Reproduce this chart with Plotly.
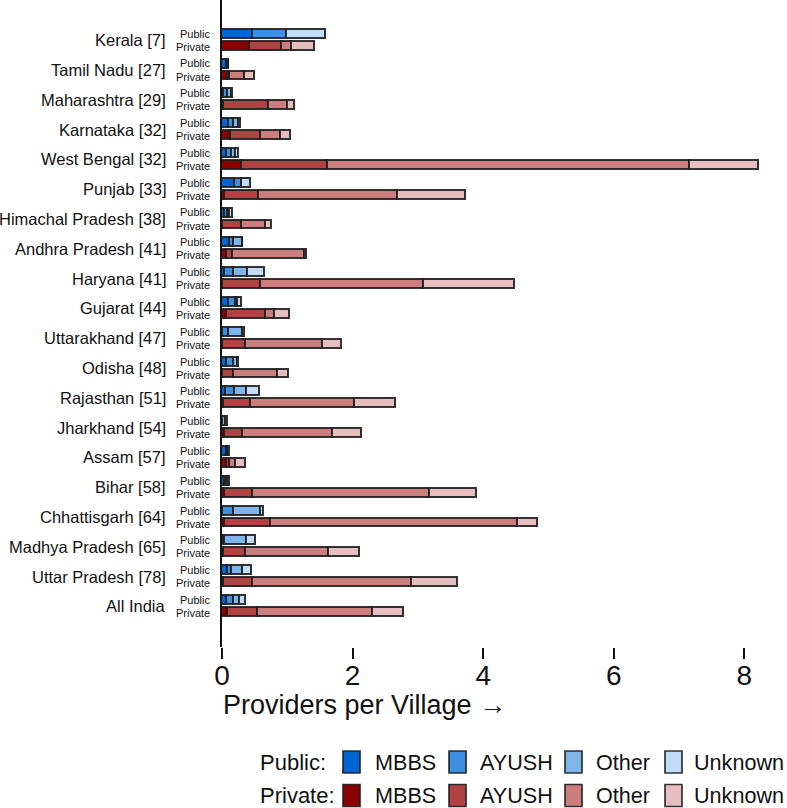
import plotly.graph_objects as go

states = ["Kerala [7]", "Tamil Nadu [27]", "Maharashtra [29]", "Karnataka [32]", "West Bengal [32]",
          "Punjab [33]", "Himachal Pradesh [38]", "Andhra Pradesh [41]", "Haryana [41]", "Gujarat [44]",
          "Uttarakhand [47]", "Odisha [48]", "Rajasthan [51]", "Jharkhand [54]", "Assam [57]",
          "Bihar [58]", "Chhattisgarh [64]", "Madhya Pradesh [65]", "Uttar Pradesh [78]", "All India"]

categories = ["MBBS", "AYUSH", "Other", "Unknown"]

public_mbbs = [0.47, 0.08, 0.03, 0.11, 0.08, 0.20, 0.05, 0.13, 0.05, 0.11,
               0.01, 0.08, 0.055, 0.005, 0.07, 0.05, 0.02, 0.01, 0.087, 0.08]
public_ayush = [0.53, 0.02, 0.06, 0.08, 0.08, 0.10, 0.04, 0.05, 0.13, 0.11,
                0.09, 0.11, 0.15, 0.015, 0.02, 0.03, 0.17, 0.03, 0.066, 0.10]
public_other = [0.0, 0.005, 0.06, 0.07, 0.06, 0.0, 0.04, 0.14, 0.22, 0.03,
                0.22, 0.05, 0.18, 0.035, 0.02, 0.02, 0.41, 0.35, 0.17, 0.09]
public_unknown = [0.60, 0.005, 0.02, 0.03, 0.04, 0.14, 0.035, 0.0, 0.26, 0.05,
                  0.025, 0.02, 0.19, 0.03, 0.015, 0.03, 0.045, 0.13, 0.13, 0.09]

private_mbbs = [0.43, 0.09, 0.035, 0.14, 0.30, 0.04, 0.01, 0.08, 0.02, 0.07,
                0.02, 0.01, 0.035, 0.04, 0.08, 0.05, 0.05, 0.035, 0.03, 0.085]
private_ayush = [0.49, 0.035, 0.69, 0.46, 1.33, 0.52, 0.29, 0.09, 0.58, 0.61,
                 0.34, 0.17, 0.41, 0.28, 0.05, 0.42, 0.70, 0.34, 0.44, 0.47]
private_other = [0.15, 0.23, 0.28, 0.30, 5.54, 2.14, 0.37, 1.10, 2.49, 0.13,
                 1.18, 0.67, 1.59, 1.38, 0.08, 2.72, 3.78, 1.26, 2.44, 1.75]
private_unknown = [0.35, 0.15, 0.11, 0.16, 1.05, 1.04, 0.09, 0.025, 1.39, 0.23,
                   0.30, 0.18, 0.63, 0.45, 0.16, 0.72, 0.31, 0.475, 0.71, 0.48]

x_ticks = [0, 2, 4, 6, 8]

public_colors = ["#0066d6", "#3d8fe0", "#80b5ec", "#c3dcf5"]
private_colors = ["#8b0000", "#b04242", "#cc7e7e", "#e6bec0"]

FONT = "Liberation Sans, Arial, Helvetica, sans-serif"
W, H = 787, 808
ML, MR, MT, MB = 222, 10, 0, 161
plot_w = W - ML - MR
plot_h = H - MT - MB

idx = list(range(len(states)))
off = 0.2
bw = 0.30

fig = go.Figure()
line = dict(color="rgba(30,30,30,0.9)", width=1.7)
for vals, name, col in zip([public_mbbs, public_ayush, public_other, public_unknown], categories, public_colors):
    fig.add_trace(go.Bar(x=vals, y=[i - off for i in idx], orientation="h", width=bw,
                         name="Public " + name, marker=dict(color=col, line=line), showlegend=False))
for vals, name, col in zip([private_mbbs, private_ayush, private_other, private_unknown], categories, private_colors):
    fig.add_trace(go.Bar(x=vals, y=[i + off for i in idx], orientation="h", width=bw,
                         name="Private " + name, marker=dict(color=col, line=line), showlegend=False))

annotations = []
for i, s in enumerate(states):
    annotations.append(dict(x=0, xref="paper", y=i, yref="y", text=s, showarrow=False,
                            xanchor="right", yanchor="middle", xshift=-54,
                            font=dict(size=16.5, color="#111", family=FONT)))
    annotations.append(dict(x=0, xref="paper", y=i - off - 0.02, yref="y", text="Public", showarrow=False,
                            xanchor="right", yanchor="middle", xshift=-10,
                            font=dict(size=11, color="#111", family=FONT)))
    annotations.append(dict(x=0, xref="paper", y=i + off + 0.02, yref="y", text="Private", showarrow=False,
                            xanchor="right", yanchor="middle", xshift=-10,
                            font=dict(size=11, color="#111", family=FONT)))


def px_x(p):
    return (p - ML) / plot_w


def px_y(p):
    return (MT + plot_h - p) / plot_h


# x axis title, left aligned at zero
annotations.append(dict(x=0, xref="paper", y=px_y(705), yref="paper", text="Providers per Village \u2192",
                        showarrow=False, xanchor="left", yanchor="middle", xshift=-1,
                        font=dict(size=27, color="#111", family=FONT)))

# legend (manual)
shapes = []
sw_x = [343, 449, 565, 665]
tx_x = [373, 478, 594, 692]
rows = [("Public:", 762, public_colors), ("Private:", 795.5, private_colors)]
for label, cy, cols in rows:
    annotations.append(dict(x=px_x(258), xref="paper", y=px_y(cy), yref="paper", text=label,
                            showarrow=False, xanchor="left", yanchor="middle",
                            font=dict(size=22, color="#111", family=FONT)))
    for sx, tx, col, cat in zip(sw_x, tx_x, cols, categories):
        shapes.append(dict(type="rect", xref="paper", yref="paper",
                           x0=px_x(sx), x1=px_x(sx + 17), y0=px_y(cy - 11), y1=px_y(cy + 11),
                           fillcolor=col, line=dict(color="rgba(30,30,30,0.9)", width=1.7)))
        annotations.append(dict(x=px_x(tx), xref="paper", y=px_y(cy), yref="paper", text=cat,
                                showarrow=False, xanchor="left", yanchor="middle",
                                font=dict(size=21.6, color="#111", family=FONT)))

fig.update_layout(
    width=W, height=H,
    margin=dict(l=ML, r=MR, t=MT, b=MB, pad=0),
    barmode="stack",
    bargap=0,
    plot_bgcolor="white", paper_bgcolor="white",
    font=dict(family=FONT, color="#111"),
    annotations=annotations,
    shapes=shapes,
    xaxis=dict(range=[0, 8.5], tickvals=x_ticks, ticktext=[str(t) for t in x_ticks],
               ticks="outside", ticklen=11, tickwidth=1.5, tickcolor="#111",
               ticklabelstandoff=-8,
               tickfont=dict(size=28, family=FONT, color="#111"),
               showgrid=False, zeroline=False, showline=False, fixedrange=True),
    yaxis=dict(range=[20.36, -1.35], showticklabels=False, ticks="", showgrid=False,
               zeroline=False, showline=True, linecolor="#111", linewidth=2, fixedrange=True),
)

fig.write_html("out.html", config={"displayModeBar": False},
               post_script="document.body.style.margin='0';")
